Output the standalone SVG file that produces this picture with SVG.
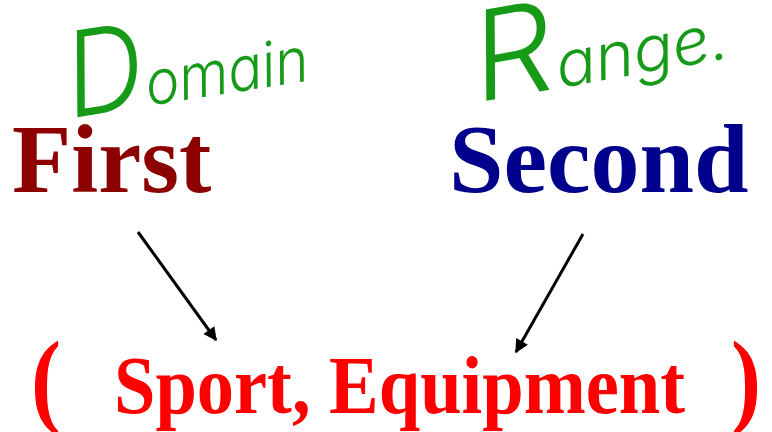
<svg xmlns="http://www.w3.org/2000/svg" width="772" height="432" viewBox="0 0 772 432">
  <style>
    .bold { font-family: "Liberation Serif", "Times New Roman", serif; font-weight: bold; }
    .hand { font-family: "Inter", "Noto Sans", "DejaVu Sans", sans-serif; font-style: italic; font-weight: 300; fill: #179a17; }
    .arrow { stroke: #000; stroke-width: 3; fill: none; marker-end: url(#head); }
  </style>
  <defs>
    <marker id="head" viewBox="0 0 10 10" refX="9" refY="5" markerWidth="5" markerHeight="4.5" orient="auto" markerUnits="strokeWidth">
      <path d="M0,0 L10,5 L0,10 Z" fill="#000"/>
    </marker>
  </defs>
  <rect width="772" height="432" fill="#fff"/>

  <g id="domain-label">
    <text class="hand" transform="rotate(-9 72 118)" x="72" y="118" textLength="242" lengthAdjust="spacingAndGlyphs"><tspan font-size="118">D</tspan><tspan font-size="62">omain</tspan></text>
  </g>

  <g id="range-label">
    <text class="hand" transform="rotate(-10 480 102)" x="480" y="102" textLength="255" lengthAdjust="spacingAndGlyphs"><tspan font-size="124">R</tspan><tspan font-size="64">ange.</tspan></text>
  </g>

  <g id="first">
    <text class="bold" x="12" y="192" font-size="97" fill="#8c0000">First</text>
  </g>

  <g id="second">
    <text class="bold" x="449" y="192" font-size="98" fill="#00008c">Second</text>
  </g>

  <g id="pair">
    <text class="bold" transform="translate(31 414) scale(0.85 1)" font-size="106" fill="#ff0000">(</text>
    <text class="bold" x="114" y="413" font-size="82" fill="#ff0000" textLength="571" lengthAdjust="spacingAndGlyphs">Sport, Equipment</text>
    <text class="bold" transform="translate(731 414) scale(0.85 1)" font-size="106" fill="#ff0000">)</text>
  </g>

  <g id="connectors">
    <line class="arrow" x1="138" y1="232" x2="216" y2="340"/>
    <line class="arrow" x1="583" y1="234" x2="516" y2="352"/>
  </g>
</svg>
